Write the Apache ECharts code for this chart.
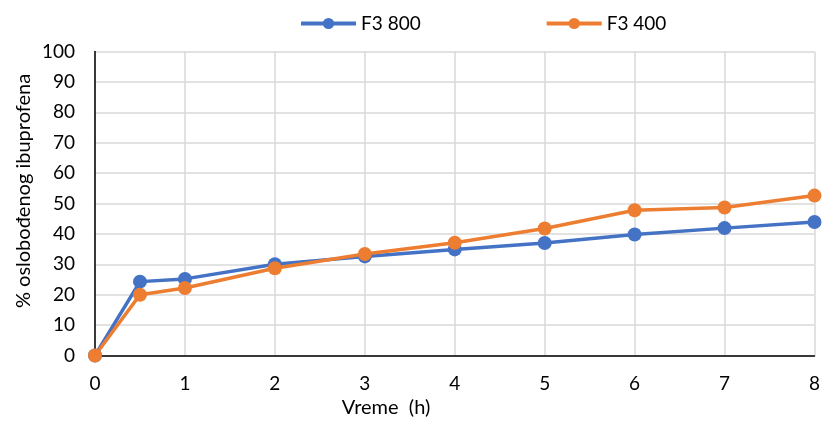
<!DOCTYPE html>
<html>
<head>
<meta charset="utf-8">
<script src="https://cdn.jsdelivr.net/npm/echarts@6/dist/echarts.min.js"></script>
<style>
  html, body { margin: 0; padding: 0; background: #fff; }
  #chart { width: 823px; height: 421px; }
</style>
</head>
<body>
<div id="chart"></div>
<script>
// Release time points (h)
const times = [0, 0.5, 1, 2, 3, 4, 5, 6, 7, 8];
// % ibuprofen released
const f3_800 = [0, 24.3, 25.2, 30.0, 32.6, 34.9, 37.0, 39.8, 41.9, 43.9];
const f3_400 = [0, 20.0, 22.2, 28.7, 33.4, 37.1, 41.8, 47.8, 48.7, 52.6];
const seriesNames = ['F3 800', 'F3 400'];
const seriesColors = ['#4472C4', '#ED7D31'];

const font = 'Lato, Liberation Sans, Arial, sans-serif';
const pairs = (ys) => times.map((t, i) => [t, ys[i]]);

const chart = echarts.init(document.getElementById('chart'));
chart.setOption({
  animation: false,
  backgroundColor: '#ffffff',
  textStyle: { fontFamily: font },
  legend: {
    top: 9,
    left: 294,
    itemWidth: 55,
    itemHeight: 14,
    itemGap: 124,
    lineStyle: { width: 4 },
    textStyle: { fontSize: 19, color: '#000', fontFamily: font },
    data: seriesNames
  },
  grid: { left: 95, right: 8, top: 51.5, bottom: 65.5 },
  xAxis: {
    type: 'value',
    min: 0, max: 8, interval: 1,
    axisLine: { lineStyle: { color: '#000', width: 1.5 } },
    axisTick: { show: false },
    axisLabel: { fontSize: 19, color: '#000', margin: 19, fontFamily: font },
    splitLine: { show: true, lineStyle: { color: '#D9D9D9', width: 1.5 } }
  },
  yAxis: {
    type: 'value',
    min: 0, max: 100, interval: 10,
    axisLine: { show: true, lineStyle: { color: '#000', width: 1.5 } },
    axisTick: { show: false },
    axisLabel: { fontSize: 19, color: '#000', margin: 20, fontFamily: font },
    splitLine: { show: true, lineStyle: { color: '#D9D9D9', width: 1.5 } }
  },
  graphic: [
    {
      type: 'text',
      x: 386, y: 398,
      style: { text: 'Vreme  (h)', font: '20px ' + font, fill: '#000', textAlign: 'center' }
    },
    {
      type: 'text',
      x: 24, y: 191,
      rotation: Math.PI / 2,
      style: { text: '% oslobođenog ibuprofena', font: '20px ' + font, fill: '#000', textAlign: 'center', textVerticalAlign: 'middle' }
    }
  ],
  series: [
    {
      name: seriesNames[0], type: 'line', data: pairs(f3_800),
      symbol: 'circle', symbolSize: 14,
      lineStyle: { width: 3.5, color: seriesColors[0] },
      itemStyle: { color: seriesColors[0] }
    },
    {
      name: seriesNames[1], type: 'line', data: pairs(f3_400),
      symbol: 'circle', symbolSize: 14,
      lineStyle: { width: 3.5, color: seriesColors[1] },
      itemStyle: { color: seriesColors[1] }
    }
  ]
});
</script>
</body>
</html>
